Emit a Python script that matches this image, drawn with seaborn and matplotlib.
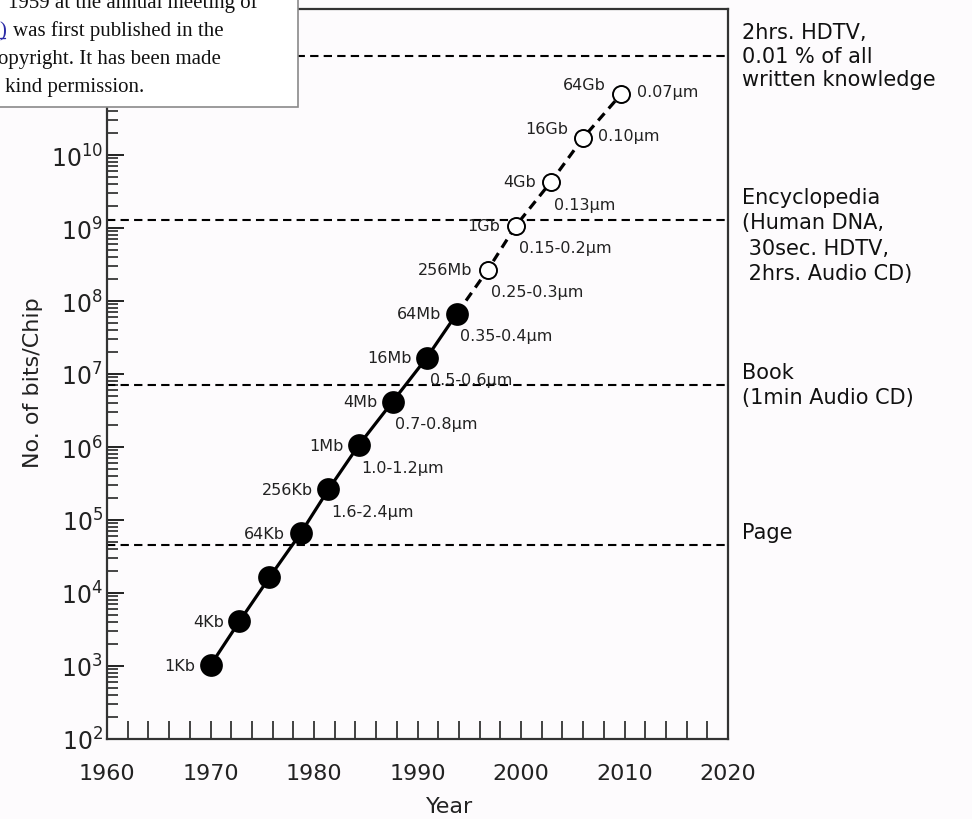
import numpy as np
import pandas as pd
import matplotlib.pyplot as plt
import seaborn as sns
from matplotlib.ticker import MultipleLocator, LogLocator, NullFormatter
from matplotlib.patches import Rectangle
from matplotlib.lines import Line2D

# DRAM generations: year of introduction and bits per chip
years = [1970, 1972.8, 1975.7, 1978.7, 1981.4, 1984.3, 1987.6, 1990.9,
         1993.8, 1996.8, 1999.5, 2002.9, 2006.0, 2009.7]
bits = [1024, 4096, 16384, 65536, 262144, 1048576, 4194304, 16777216,
        67108864, 268435456, 1073741824, 4294967296, 17179869184, 68719476736]
chip_labels = ['1Kb', '4Kb', '', '64Kb', '256Kb', '1Mb', '4Mb', '16Mb',
               '64Mb', '256Mb', '1Gb', '4Gb', '16Gb', '64Gb']
feature_labels = ['', '', '', '', '1.6-2.4µm', '1.0-1.2µm', '0.7-0.8µm',
                  '0.5-0.6µm', '0.35-0.4µm', '0.25-0.3µm', '0.15-0.2µm',
                  '0.13µm', '0.10µm', '0.07µm']
n_actual = 9   # first 9 are filled (produced), rest are projections

# reference storage levels
ref_levels = [2.3e11, 1.3e9, 7.1e6, 4.6e4]
ref_texts = ['2hrs. HDTV,\n0.01 % of all\nwritten knowledge',
             'Encyclopedia\n(Human DNA,\n 30sec. HDTV,\n 2hrs. Audio CD)',
             'Book\n(1min Audio CD)',
             'Page']

df = pd.DataFrame({'year': years, 'bits': bits})
df['kind'] = ['actual'] * n_actual + ['projected'] * (len(years) - n_actual)

sns.set_theme(style='white')
plt.rcParams['font.family'] = ['DejaVu Sans']
bg = '#fdfbfd'

fig = plt.figure(figsize=(9.72, 8.2), dpi=100, facecolor=bg)
ax = fig.add_axes([107 / 972, 80 / 820, 621 / 972, 730 / 820])
ax.set_facecolor(bg)
ax.set_yscale('log')

# horizontal reference lines
for lvl in ref_levels:
    ax.axhline(lvl, color='black', lw=1.5, dashes=(4, 2.5), zorder=1)

# solid line for produced chips, dashed for projected
sns.lineplot(data=df.iloc[:n_actual], x='year', y='bits', color='black',
             lw=2.3, estimator=None, ax=ax, zorder=2)
sns.lineplot(data=df.iloc[n_actual - 1:], x='year', y='bits', color='black',
             lw=2.3, estimator=None, ax=ax, zorder=2, dashes=False,
             linestyle=(0, (3, 2)))
sns.scatterplot(data=df[df['kind'] == 'actual'], x='year', y='bits',
                color='black', s=230, edgecolor='black', ax=ax, zorder=3)
sns.scatterplot(data=df[df['kind'] == 'projected'], x='year', y='bits',
                facecolor='white', s=150, edgecolor='black', linewidth=1.4,
                ax=ax, zorder=3)

# point labels
for i, (x, y) in enumerate(zip(years, bits)):
    up = 7 if i >= 12 else 0
    if chip_labels[i]:
        ax.annotate(chip_labels[i], (x, y), xytext=(-11, up),
                    textcoords='offset points', ha='right', va='center',
                    fontsize=11.5, color='#222222')
    if feature_labels[i]:
        off = (11, 2) if i >= 12 else (2, -16)
        ax.annotate(feature_labels[i], (x, y), xytext=off,
                    textcoords='offset points', ha='left', va='center',
                    fontsize=11.5, color='#222222')

# notes on the right side
note_dy = [0, -11, 0, 9]
note_ls = [1.2, 1.35, 1.3, 1.2]
for lvl, txt, dy, ls in zip(ref_levels, ref_texts, note_dy, note_ls):
    ax.annotate(txt, (1.0, lvl), xycoords=('axes fraction', 'data'),
                xytext=(10, dy), textcoords='offset points', ha='left',
                va='center', fontsize=15, linespacing=ls, color='#111111',
                annotation_clip=False)

ax.set_xlim(1960, 2020)
ax.set_ylim(1e2, 1e12)
ax.xaxis.set_major_locator(MultipleLocator(10))
ax.xaxis.set_minor_locator(MultipleLocator(2))
ax.yaxis.set_major_locator(LogLocator(base=10, numticks=20))
ax.yaxis.set_minor_locator(LogLocator(base=10, subs=np.arange(2, 10), numticks=20))
ax.yaxis.set_minor_formatter(NullFormatter())
ax.tick_params(axis='x', which='both', direction='in', length=13, width=1.2,
               labelsize=16, pad=17, colors='#222222', bottom=True)
ax.tick_params(axis='y', which='major', direction='in', length=12, width=1.4,
               labelsize=17, pad=3, colors='#222222', left=True)
ax.tick_params(axis='y', which='minor', direction='in', length=8, width=1.2,
               left=True)

ax.set_xlabel('Year', fontsize=16, color='#222222')
ax.set_ylabel('No. of bits/Chip', fontsize=16, color='#222222')
ax.xaxis.set_label_coords(0.552, -0.078)
ax.yaxis.set_label_coords(-0.103, 0.49)

for side in ['left', 'bottom', 'top', 'right']:
    ax.spines[side].set_visible(True)
    ax.spines[side].set_color('#333333')
    ax.spines[side].set_linewidth(1.6)

# overlapping caption box from the web page in the top-left corner
W, H = 972, 820
fig.add_artist(Rectangle((-2 / W, 1 - 108 / H), 300 / W, 110 / H,
                         transform=fig.transFigure, facecolor='white',
                         edgecolor='#8a8a8a', lw=1.2, zorder=5))
serif = dict(family='Liberation Serif', fontsize=15, color='#111111',
             va='baseline', ha='left', zorder=6)
fig.text(8 / W, 1 - 8 / H, '1959 at the annual meeting of', **serif)
fig.text(-1 / W, 1 - 36 / H, ')', **{**serif, 'color': '#2b2ba6'})
fig.add_artist(Line2D([0, 5 / W], [1 - 39 / H, 1 - 39 / H],
                      transform=fig.transFigure, color='#2b2ba6', lw=1, zorder=6))
fig.text(13 / W, 1 - 36 / H, 'was first published in the', **serif)
fig.text(-2 / W, 1 - 64 / H, 'opyright. It has been made', **serif)
fig.text(5 / W, 1 - 92 / H, 'kind permission.', **serif)

plt.savefig('out.png', dpi=100, facecolor=bg)
